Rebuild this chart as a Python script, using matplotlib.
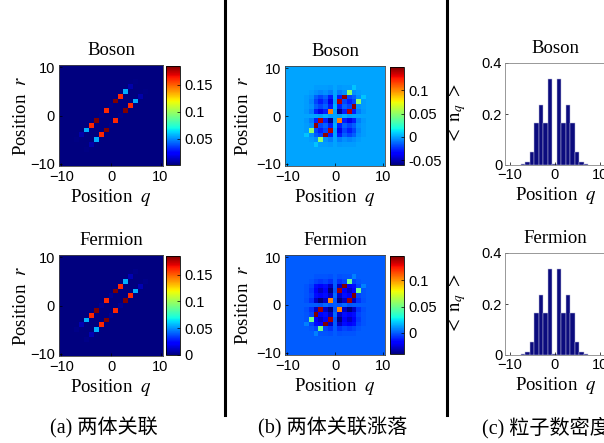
import numpy as np
import matplotlib
matplotlib.use('Agg')
import matplotlib.pyplot as plt
from matplotlib.lines import Line2D
from matplotlib.ticker import FuncFormatter

plt.rcParams['mathtext.fontset'] = 'stix'
plt.rcParams['font.family'] = ['Liberation Sans']

# lattice sites q, r = -10 ... 10
n_sites = 21

# <n_q n_r> on the line r = q + 2 (mirrored onto r = q - 2)
line_q = [-7, -6, -5, -4, -3, -2, -1, 0, 1, 2, 3, 4, 5]
corr_line_boson = [0.002, 0.008, 0.055, 0.160, 0.185, 0.003, 0.160, 0.003, 0.185, 0.160, 0.055, 0.008, 0.002]
corr_line_fermion = [0.002, 0.008, 0.055, 0.160, 0.185, 0.003, 0.160, 0.003, 0.185, 0.160, 0.055, 0.008, 0.002]

# fluctuation <n_q n_r> - <n_q><n_r>, rows r = 6 ... 0, columns q = -6 ... 6
fluct_rows_boson = [
    [0.000, 0.000, -0.001, -0.001, -0.001, -0.002, 0.000, -0.002, -0.001, -0.001, 0.007, 0.000, 0.000],
    [0.000, -0.001, -0.004, -0.006, -0.004, -0.008, 0.000, -0.008, -0.004, 0.049, -0.004, -0.001, 0.000],
    [-0.001, -0.004, -0.014, -0.019, -0.014, -0.028, 0.000, -0.028, 0.146, -0.019, -0.014, -0.004, 0.007],
    [-0.001, -0.006, -0.019, -0.028, -0.019, -0.040, -0.001, 0.140, -0.019, -0.028, -0.019, 0.049, -0.001],
    [-0.001, -0.004, -0.014, -0.019, -0.014, -0.028, 0.003, -0.028, -0.014, -0.019, 0.146, -0.004, -0.001],
    [-0.002, -0.008, -0.028, -0.040, -0.028, 0.103, -0.001, -0.057, -0.028, 0.140, -0.028, -0.008, -0.002],
    [0.000, 0.000, 0.000, -0.001, 0.003, -0.001, 0.000, -0.001, 0.003, -0.001, 0.000, 0.000, 0.000],
]
fluct_rows_fermion = [
    [0.000, 0.000, -0.001, -0.001, -0.001, -0.002, 0.000, -0.002, -0.001, -0.001, 0.007, 0.000, 0.000],
    [0.000, -0.001, -0.004, -0.006, -0.004, -0.008, 0.000, -0.008, -0.004, 0.049, -0.004, -0.001, 0.000],
    [-0.001, -0.004, -0.014, -0.019, -0.014, -0.028, 0.000, -0.028, 0.146, -0.019, -0.014, -0.004, 0.007],
    [-0.001, -0.006, -0.019, -0.028, -0.019, -0.040, -0.001, 0.140, -0.019, -0.028, -0.019, 0.049, -0.001],
    [-0.001, -0.004, -0.014, -0.019, -0.014, -0.028, 0.003, -0.028, -0.014, -0.019, 0.146, -0.004, -0.001],
    [-0.002, -0.008, -0.028, -0.040, -0.028, 0.103, -0.001, -0.057, -0.028, 0.140, -0.028, -0.008, -0.002],
    [0.000, 0.000, 0.000, -0.001, 0.003, -0.001, 0.000, -0.001, 0.003, -0.001, 0.000, 0.000, 0.000],
]

# density <n_q>, q = -7 ... 7
density_q = [-7, -6, -5, -4, -3, -2, -1, 0, 1, 2, 3, 4, 5, 6, 7]
density_boson = [0.003, 0.010, 0.050, 0.165, 0.236, 0.165, 0.337, 0.005, 0.337, 0.165, 0.236, 0.165, 0.050, 0.010, 0.003]
density_fermion = [0.003, 0.010, 0.050, 0.165, 0.236, 0.165, 0.337, 0.005, 0.337, 0.165, 0.236, 0.165, 0.050, 0.010, 0.003]

captions = ['(a) 两体关联', '(b) 两体关联涨落', '(c) 粒子数密度']


def corr_matrix(line_vals):
    m = np.zeros((n_sites, n_sites))  # m[r + 10, q + 10]
    for q, v in zip(line_q, line_vals):
        m[q + 12, q + 10] = v
        m[q + 10, q + 12] = v
    return m


def fluct_matrix(rows):
    top = np.array(rows)
    block = np.vstack([top, top[-2::-1, ::-1]])  # r = 6 ... -6
    m = np.zeros((n_sites, n_sites))
    m[4:17, 4:17] = np.flipud(block)
    return m


W, H = 604, 443
fig = plt.figure(figsize=(W / 100, H / 100), dpi=100)


def box(x, y, w, h):
    return [x / W, 1 - (y + h) / H, w / W, h / H]


serif = ['Liberation Serif', 'DejaVu Serif']
lab_kw = dict(family=serif, fontsize=13.5)
tick_fmt = FuncFormatter(lambda v, p: '%g' % v)


def heat(ax_box, cb_box, data, vmin, vmax, cticks, title, ylabpad):
    ax = fig.add_axes(box(*ax_box))
    im = ax.imshow(data, cmap='jet', origin='lower', vmin=vmin, vmax=vmax,
                   extent=[-10.5, 10.5, -10.5, 10.5], interpolation='nearest',
                   aspect='auto')
    ax.set_xticks([-10, 0, 10])
    ax.set_yticks([-10, 0, 10])
    ax.tick_params(direction='in', length=2.5, labelsize=10.5, width=0.5, pad=3)
    for s in ax.spines.values():
        s.set_linewidth(0.6)
        s.set_color('#444444')
    ax.set_title(title, pad=7, **lab_kw)
    ax.set_xlabel('Position  $q$', labelpad=2, **lab_kw)
    ax.set_ylabel('Position  $r$', labelpad=ylabpad, **lab_kw)
    cax = fig.add_axes(box(*cb_box))
    cb = fig.colorbar(im, cax=cax)
    cb.set_ticks(cticks)
    cb.ax.yaxis.set_major_formatter(tick_fmt)
    cb.ax.tick_params(direction='in', length=2.5, labelsize=10.5, width=0.5)
    cb.outline.set_linewidth(0.6)
    return ax


def hist(ax_box, vals, title):
    ax = fig.add_axes(box(*ax_box))
    ax.bar(density_q, vals, width=1.0, color='#0b0b7e', edgecolor='#b8b8d8',
           linewidth=0.35)
    ax.set_xlim(-11, 11.4)
    ax.set_ylim(0, 0.4)
    ax.set_xticks([-10, 0, 10])
    ax.set_yticks([0, 0.2, 0.4])
    ax.yaxis.set_major_formatter(tick_fmt)
    ax.tick_params(direction='in', length=2.5, labelsize=10.5, width=0.5, pad=2)
    for s in ax.spines.values():
        s.set_linewidth(0.6)
        s.set_color('#888888')
    ax.set_title(title, pad=7, **lab_kw)
    ax.set_xlabel('Position  $q$', labelpad=2, **lab_kw)
    ax.set_ylabel(r'$<\ \mathrm{n}_{q}\ >$', fontsize=13.5, labelpad=10)
    return ax


# (a) two-body correlation
heat((59, 65, 104, 101), (166, 66, 14, 99), corr_matrix(corr_line_boson),
     0.001, 0.185, [0.05, 0.1, 0.15], 'Boson', 0)
heat((59, 255, 104, 101), (166, 256, 14, 99), corr_matrix(corr_line_fermion),
     0.0, 0.185, [0, 0.05, 0.1, 0.15], 'Fermion', 0)

# (b) fluctuation
heat((285, 66, 100, 100), (390, 67, 14, 98), fluct_matrix(fluct_rows_boson),
     -0.06, 0.15, [-0.05, 0, 0.05, 0.1], 'Boson', 3)
heat((285, 255, 100, 100), (390, 256, 14, 98), fluct_matrix(fluct_rows_fermion),
     -0.04, 0.146, [0, 0.05, 0.1], 'Fermion', 3)

# (c) density
hist((505, 63, 101, 102), density_boson, 'Boson')
hist((505, 253, 101, 102), density_fermion, 'Fermion')

# separators between the three groups
for xs in (225, 447):
    fig.add_artist(Line2D([xs / W, xs / W], [1, 1 - 415 / H], color='black', lw=2.2))

for lx, txt in zip([50, 258, 482], captions):
    fig.text(lx / W, 1 - 428 / H, txt, ha='left', va='center',
             family=['Liberation Serif', 'Noto Sans CJK SC'], fontsize=14.5)

fig.savefig('out.png', dpi=100, facecolor='white')
